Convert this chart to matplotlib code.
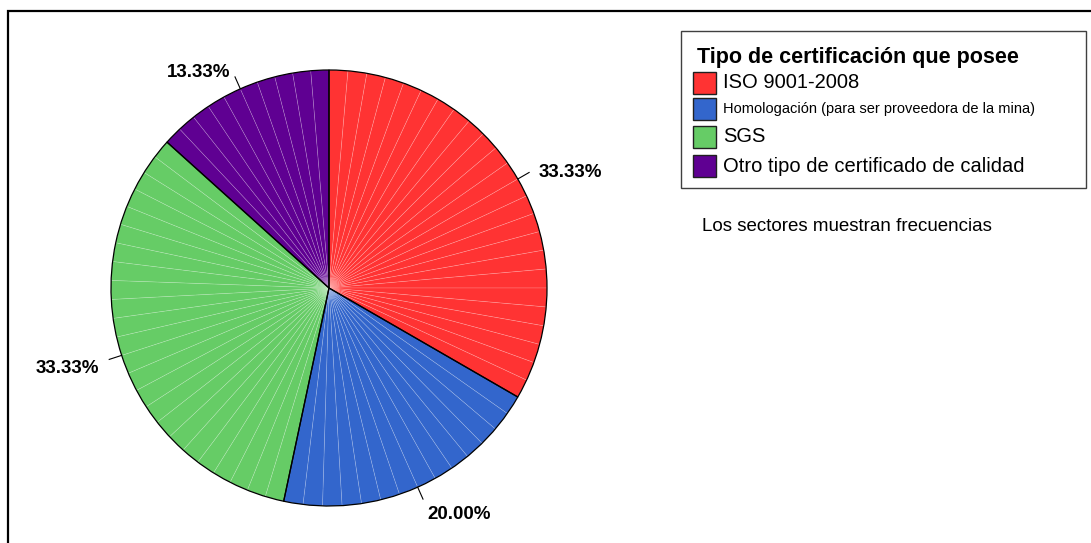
import numpy as np
import matplotlib
matplotlib.use('Agg')
import matplotlib.pyplot as plt
from matplotlib.patches import Rectangle

plt.rcParams['font.family'] = ['Liberation Sans', 'DejaVu Sans']

# frecuencias por tipo de certificación (n = 15)
categorias = ['ISO 9001-2008',
              'Homologación (para ser proveedora de la mina)',
              'SGS',
              'Otro tipo de certificado de calidad']
frecuencias = [5, 3, 5, 2]
colores = ['#FF3333', '#3366CC', '#66CC66', '#5F0092']
titulo_leyenda = 'Tipo de certificación que posee'
nota = 'Los sectores muestran frecuencias'

W, H = 1091, 543
fig = plt.figure(figsize=(W / 100, H / 100), dpi=100)


def fx(px):
    return px / W


def fy(py):
    return 1 - py / H


# marco exterior
fig.patches.append(Rectangle((fx(7.5), fy(560)), fx(1100), fy(11) - fy(560),
                             transform=fig.transFigure, fill=False,
                             edgecolor='black', linewidth=1.6))

# ejes del pastel: radio 1 -> 218 px, centro en (329, 288)
cx, cy, R = 329, 288, 218
half = 1.1 * R
ax = fig.add_axes([fx(cx - half), fy(cy + half), 2 * half / W, 2 * half / H])

# subdividir cada sector para el sombreado de líneas finas
pasos = 72
total = sum(frecuencias)
sub_vals, sub_cols = [], []
for v, c in zip(frecuencias, colores):
    n = max(1, int(round(v / total * pasos)))
    sub_vals += [v / n] * n
    sub_cols += [c] * n

ax.pie(sub_vals, colors=sub_cols, startangle=90, counterclock=False, radius=1,
       wedgeprops=dict(edgecolor=(1, 1, 1, 0.22), linewidth=0.5))
ax.pie(frecuencias, colors=['none'] * len(frecuencias), startangle=90,
       counterclock=False, radius=1,
       wedgeprops=dict(edgecolor='black', linewidth=0.9))

# etiquetas de porcentaje con línea guía
acum = 0
for v in frecuencias:
    ang = np.deg2rad(90 - 360 * (acum + v / 2) / total)
    acum += v
    c, s = np.cos(ang), np.sin(ang)
    ax.plot([c, 1.06 * c], [s, 1.06 * s], color='black', linewidth=0.8)
    ax.text(1.11 * c, 1.11 * s - 0.025, f'{100 * v / total:.2f}%',
            ha='left' if c > 0 else 'right', va='center',
            fontsize=13.5, fontweight='bold')

ax.set_xlim(-1.1, 1.1)
ax.set_ylim(-1.1, 1.1)
ax.axis('off')

# leyenda
fig.patches.append(Rectangle((fx(681), fy(188)), fx(1086) - fx(681), fy(31) - fy(188),
                             transform=fig.transFigure, fill=False,
                             edgecolor='#404040', linewidth=1.0))
fig.text(fx(697), fy(58), titulo_leyenda, fontsize=15.5, fontweight='bold',
         va='center', ha='left')
filas_y = [83, 109, 137, 166]
tamanos = [14.5, 10.5, 14.5, 14.5]
for etiqueta, color, y, t in zip(categorias, colores, filas_y, tamanos):
    fig.patches.append(Rectangle((fx(693), fy(y + 11)), fx(716) - fx(693), fy(y - 11) - fy(y + 11),
                                 transform=fig.transFigure, facecolor=color,
                                 edgecolor='#202020', linewidth=1.0))
    fig.text(fx(723), fy(y), etiqueta, fontsize=t, va='center', ha='left')

fig.text(fx(702), fy(227), nota, fontsize=13.5, va='center', ha='left')

fig.savefig('out.png', dpi=100)
